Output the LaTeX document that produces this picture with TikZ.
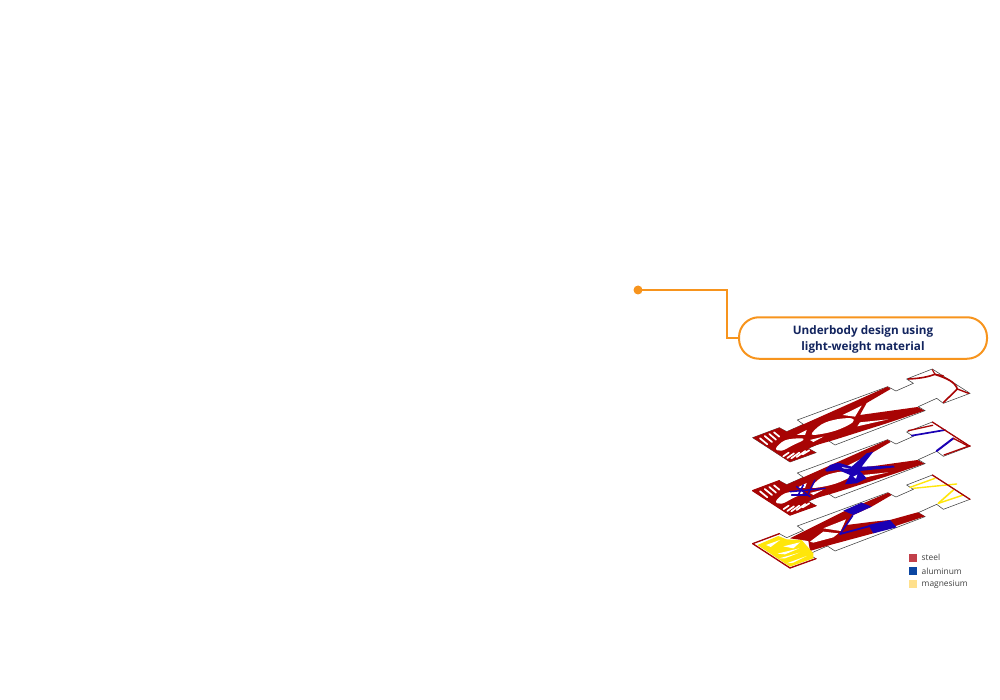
\documentclass[tikz,border=0pt]{standalone}
\usepackage{fontspec}
\setmainfont{Open Sans}
\usetikzlibrary{positioning,calc}
\definecolor{calloutorange}{HTML}{F7941D}
\definecolor{calloutnavy}{HTML}{12245E}
\definecolor{platered}{HTML}{A80404}
\definecolor{plateblue}{HTML}{1A00B4}
\definecolor{plateyellow}{HTML}{FFE60A}
\definecolor{legendsteel}{HTML}{C2404A}
\definecolor{legendalu}{HTML}{0B46A2}
\definecolor{legendmag}{HTML}{FFE08C}
\tikzset{
  x=1pt,y=-1pt,
  calloutbox/.style={rounded corners=20pt,draw=calloutorange,line width=2pt,fill=white,
                     align=center,font=\bfseries\fontsize{11.7}{15.5}\selectfont,text=calloutnavy,
                     minimum width=248pt,minimum height=41.5pt,inner sep=0pt},
  calloutdot/.style={circle,fill=calloutorange,minimum size=9pt,inner sep=0pt},
  calloutline/.style={draw=calloutorange,line width=1.8pt},
  platelocal/.style={x=0.3333pt,y=-0.3333pt},
  plateedge/.style={draw=black!75,line width=0.55pt,fill=white},
  legendswatch/.style={minimum size=8.6pt,inner sep=0pt},
  legendtext/.style={font=\fontsize{8.4}{10}\selectfont,text=black!75,inner sep=0pt},
  hole/.style={fill=white,draw=none},
  strut/.style={line width=#1,line cap=round},
  strut/.default=1.4pt,
}
\newcommand{\plateoutline}{(38,218) -- (118,188) -- (140,200) -- (190,178) -- (172,165) -- (443,65) -- (468,78) -- (520,55) -- (500,42) -- (577,12) -- (690,85) -- (610,115) -- (590,100) -- (535,125) -- (555,137) -- (285,240) -- (262,225) -- (205,250) -- (228,263) -- (150,291) -- cycle}
% left end with its hatch, #1 = fill
\newcommand{\plateleft}[1]{
  \fill[#1] (38,218) -- (118,188) -- (140,200) -- (190,178) -- (262,190) -- (262,225) -- (205,250) -- (228,263) -- (150,291) -- cycle;
  \foreach \a/\b/\c/\d in {60/220/82/238, 74/213/96/231, 88/207/108/224, 102/202/118/215, 130/274/146/263, 142/279/162/265, 154/280/178/263, 170/276/196/258, 188/268/208/256}{
    \draw[white,strut=1.7pt] (\a,\b) -- (\c,\d);
  }
}
% main bands shared by the two upper plates
\newcommand{\platebands}{
  \fill[platered] (443,65) -- (452,72) -- (380,114) -- (360,150) -- (533,126) -- (553,137) -- (440,175) -- (285,224) -- (230,240) -- (200,250) -- (150,240) -- (150,205) -- (190,178) -- cycle;
  \fill[hole] plot[smooth cycle,tension=0.6] coordinates {(215,208) (245,178) (290,163) (335,160) (338,172) (300,192) (255,205)};
  \fill[hole] (308,150) -- (365,122) -- (345,155) -- cycle;
  \fill[hole] (352,184) -- (360,172) -- (445,163) -- cycle;
  \fill[hole] plot[smooth cycle,tension=0.6] coordinates {(108,250) (135,226) (180,220) (190,225) (160,240) (125,257)};
  \fill[hole] (170,210) -- (200,195) -- (195,210) -- cycle;
  \fill[hole] (210,225) -- (250,215) -- (220,231) -- cycle;
}
% right end corners
\newcommand{\plateedgered}{
  \draw[platered,strut=1.3pt] (577,12) -- (690,85);
  \draw[platered,strut=1.3pt] (38,218) -- (118,188);
  \draw[platered,strut=1.3pt] (38,218) -- (150,291) -- (228,263);
}
\begin{document}
\begin{tikzpicture}
  \useasboundingbox (0,0) rectangle (1000,700);
  \node[calloutdot] (dot) at (638,290) {};
  \node[calloutbox] (callout) at (863,338) {\rule{0pt}{12pt}Underbody design using\\light-weight material};
  \draw[calloutline] (dot.center) -| ($(callout.west)+(-11,0)$) -- (callout.west);

  % steel plate
  \begin{scope}[shift={(740,365)},platelocal]
    \draw[plateedge] \plateoutline;
    \plateleft{platered}
    \platebands
    \draw[platered,strut=1.6pt] (505,42) .. controls (545,40) and (565,35) .. (585,28);
    \draw[platered,strut=1.2pt] (577,14) -- (585,28) -- (610,32);
    \draw[platered,strut=1.7pt] (585,28) .. controls (620,40) and (645,50) .. (652,72);
    \draw[platered,strut=1.4pt] (652,72) -- (686,85);
    \draw[platered,strut=1.6pt] (652,72) -- (610,113);
  \end{scope}

  % aluminum plate
  \begin{scope}[shift={(740,365)},yshift=-53pt,platelocal]
    \draw[plateedge] \plateoutline;
    \plateleft{platered}
    \platebands
    \fill[plateblue] (255,156) -- (270,141) -- (295,134) -- (335,146) -- (380,106) -- (400,101) -- (365,146) -- (460,143) -- (465,148) -- (360,159) -- (380,181) -- (350,196) -- (315,199) -- (330,171) -- (295,156) -- (260,161) -- cycle;
    \fill[hole] (340,176) -- (352,170) -- (348,182) -- cycle;
    \fill[hole] (305,147) -- (330,152) -- (312,152) -- cycle;
    \foreach \a/\b/\c/\d in {150/221/255/211, 155/231/200/231, 170/206/210/236, 225/186/205/226, 190/201/175/231}{
      \draw[plateblue,strut=1.5pt] (\a,\b) -- (\c,\d);
    }
    \draw[platered,strut=1.3pt] (505,38) -- (578,22);
    \draw[plateblue,strut=1.7pt] (515,53) -- (615,36);
    \draw[plateblue,strut=2pt] (640,61) -- (590,99);
    \draw[platered,strut=1.3pt] (612,111) -- (690,83);
    \draw[platered,strut=1.3pt] (640,61) -- (682,83);
    \plateedgered
  \end{scope}

  % magnesium plate
  \begin{scope}[shift={(740,365)},yshift=-106pt,platelocal]
    \draw[plateedge] \plateoutline;
    \fill[platered] (445,65) -- (455,72) -- (395,107) -- (340,132) -- (320,162) -- (400,152) -- (450,147) -- (533,124) -- (555,136) -- (400,187) -- (270,222) -- (210,240) -- (205,210) -- (150,202) -- (310,122) -- cycle;
    \fill[hole] (250,172) -- (318,145) -- (302,180) -- cycle;
    \fill[hole] (210,212) -- (250,182) -- (295,187) -- (280,199) -- (220,215) -- cycle;
    \fill[plateblue] (310,119) -- (365,95) -- (395,107) -- (340,132) -- cycle;
    \fill[plateblue] (385,162) -- (450,147) -- (470,169) -- (400,187) -- cycle;
    \draw[plateblue,strut=1.6pt] (338,134) -- (300,189);
    \draw[plateblue,strut=1.8pt] (300,189) -- (390,165);
    \fill[plateyellow] (52,222) -- (115,195) -- (140,205) -- (185,207) -- (220,247) -- (220,262) -- (150,287) -- cycle;
    \foreach \a/\b/\c/\d/\e/\f in {78/222/120/207/92/228, 130/226/180/214/160/232, 112/248/178/232/135/250, 118/262/178/245/135/262, 140/277/200/255/160/275}{
      \fill[hole] (\a,\b) -- (\c,\d) -- (\e,\f) -- cycle;
    }
    \draw[plateyellow,strut=1.4pt] (510,49) -- (585,22);
    \draw[plateyellow,strut=1.4pt] (520,52) -- (650,39);
    \draw[plateyellow,strut=1.6pt] (640,57) -- (595,97);
    \draw[plateyellow,strut=1.4pt] (595,97) -- (670,72);
    \plateedgered
  \end{scope}

  % legend
  \foreach \name/\col/\ypos in {steel/legendsteel/557.8,aluminum/legendalu/571,magnesium/legendmag/584}{
    \node[legendswatch,fill=\col] (sw\name) at (913,\ypos) {};
    \node[legendtext,right=4pt of sw\name] (lb\name) {\name};
  }
\end{tikzpicture}
\end{document}
